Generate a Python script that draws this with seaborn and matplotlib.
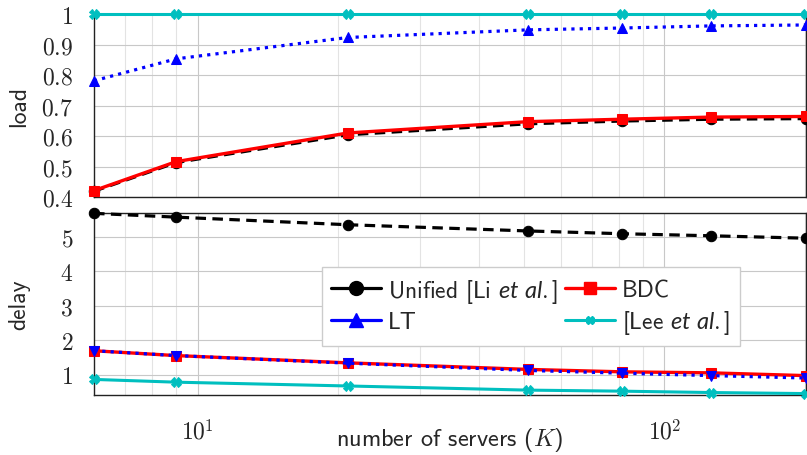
import matplotlib
matplotlib.use("Agg")
import matplotlib.pyplot as plt
import seaborn as sns
import numpy as np
from matplotlib.lines import Line2D
from matplotlib.ticker import FixedLocator, FuncFormatter, LogLocator, NullFormatter

# ---------------- data ----------------
K = [6, 9, 21, 51, 81, 126, 201]

load_unified = [0.420, 0.514, 0.605, 0.641, 0.650, 0.656, 0.658]
load_bdc = [0.422, 0.517, 0.611, 0.648, 0.656, 0.663, 0.665]
load_lt = [0.782, 0.854, 0.924, 0.949, 0.955, 0.962, 0.965]
load_lee = [1.0, 1.0, 1.0, 1.0, 1.0, 1.0, 1.0]

delay_unified = [5.68, 5.57, 5.35, 5.17, 5.09, 5.03, 4.96]
delay_bdc = [1.70, 1.56, 1.35, 1.16, 1.09, 1.06, 0.98]
delay_lt = [1.70, 1.56, 1.34, 1.13, 1.05, 0.98, 0.91]
delay_lee = [0.87, 0.79, 0.68, 0.56, 0.53, 0.49, 0.46]

load_ticks = [0.4, 0.5, 0.6, 0.7, 0.8, 0.9, 1.0]
delay_ticks = [1, 2, 3, 4, 5]
legend_labels = ["Unified [Li $\\it{et\\ al.}$]", "LT", "BDC", "[Lee $\\it{et\\ al.}$]"]

# ---------------- style ----------------
sns.set_theme(style="white")
plt.rcParams["font.family"] = ["cmss10", "DejaVu Sans"]
plt.rcParams["mathtext.fontset"] = "custom"
plt.rcParams["mathtext.rm"] = "cmr10"
plt.rcParams["mathtext.it"] = "Lato:italic"
plt.rcParams["mathtext.cal"] = "cmmi10"
plt.rcParams["axes.formatter.use_mathtext"] = True

BLACK, RED, BLUE, CYAN = "#000000", "#ff0000", "#0000ff", "#00bfbf"
FS = 17
grid_major = "#c8c8c8"
grid_minor = "#e3e3e3"

fig = plt.figure(figsize=(8.07, 4.56), dpi=100)
ax1 = fig.add_axes([94 / 807, 1 - 198.3 / 456, 712 / 807, (198.3 - 15.3) / 456])
ax2 = fig.add_axes([94 / 807, 1 - 396.3 / 456, 712 / 807, (396.3 - 214) / 456])

def draw(ax, yu, yb, yl, yee, lt_marker):
    sns.lineplot(x=K, y=yu, ax=ax, color=BLACK, lw=2.3, marker="o", ms=7.5,
                 mec=BLACK, linestyle=(0, (3.3, 2.0)), zorder=3, clip_on=False)
    sns.lineplot(x=K, y=yb, ax=ax, color=RED, lw=2.4, marker="s", ms=6.5,
                 mec=RED, zorder=4, clip_on=False)
    sns.lineplot(x=K, y=yl, ax=ax, color=BLUE, lw=2.3, marker=lt_marker, ms=7.5,
                 mec=BLUE, linestyle=(0, (1.0, 1.6)), zorder=5, clip_on=False)
    sns.lineplot(x=K, y=yee, ax=ax, color=CYAN, lw=2.2, marker="X", ms=7,
                 mec=CYAN, zorder=6, clip_on=False)

draw(ax1, load_unified, load_bdc, load_lt, load_lee, "^")
draw(ax2, delay_unified, delay_bdc, delay_lt, delay_lee, "v")

tick_fmt = FuncFormatter(lambda v, p: "$%g$" % v)
log_fmt = FuncFormatter(lambda v, p: "$10^{%d}$" % int(round(np.log10(v))))

for ax in (ax1, ax2):
    ax.set_xscale("log")
    ax.set_xlim(K[0], K[-1])
    ax.xaxis.set_major_locator(FixedLocator([10, 100]))
    ax.xaxis.set_minor_locator(LogLocator(base=10, subs=np.arange(2, 10)))
    ax.xaxis.set_minor_formatter(NullFormatter())
    ax.grid(True, which="major", color=grid_major, lw=0.8, zorder=0)
    ax.grid(True, which="minor", axis="x", color=grid_minor, lw=0.8, zorder=0)
    for s in ax.spines.values():
        s.set_color("#222222")
        s.set_linewidth(1.0)
    ax.tick_params(axis="x", which="major", direction="out", length=10, width=0.8,
                   color="#999999", labelsize=FS, pad=7)
    ax.tick_params(axis="x", which="minor", direction="out", length=6, width=0.8,
                   color="#bbbbbb")
    ax.tick_params(axis="y", which="major", direction="out", length=9, width=0.8,
                   color="#aaaaaa", labelsize=FS, pad=6)
    ax.yaxis.set_major_formatter(tick_fmt)
    ax.set_axisbelow(True)

ax1.set_ylim(0.4, 1.0)
ax1.set_yticks(load_ticks)
ax1.tick_params(axis="x", labelbottom=False)
ax1.set_ylabel("load", fontsize=FS)

ax2.set_ylim(0.41, 5.69)
ax2.set_yticks(delay_ticks)
ax2.xaxis.set_major_formatter(log_fmt)
ax2.set_ylabel("delay", fontsize=FS)
ax2.set_xlabel("number of servers ($\\mathcal{K}$)", fontsize=17.5, va="baseline")
ax2.xaxis.set_label_coords(0.5, -(446 - 396.3) / 182.3)

for ax in (ax1, ax2):
    ax.yaxis.set_label_coords(-(94 - 30) / 712, 0.5)

handles = [
    Line2D([], [], color=BLACK, lw=2.3, marker="o", ms=10),
    Line2D([], [], color=BLUE, lw=2.3, marker="^", ms=10),
    Line2D([], [], color=RED, lw=2.4, marker="s", ms=9),
    Line2D([], [], color=CYAN, lw=2.2, marker="X", ms=6),
]
leg = ax2.legend(handles, legend_labels, ncol=2, loc="upper left",
                 bbox_to_anchor=(0.32, 0.703), borderaxespad=0, fontsize=FS,
                 frameon=True, fancybox=False, handlelength=2.1,
                 handletextpad=0.3, columnspacing=0.3, labelspacing=0.28,
                 borderpad=0.4)
leg.get_frame().set_edgecolor("#cccccc")
leg.get_frame().set_linewidth(1.0)
leg.get_frame().set_alpha(1.0)
leg.set_zorder(10)

fig.savefig("out.png", dpi=100)
